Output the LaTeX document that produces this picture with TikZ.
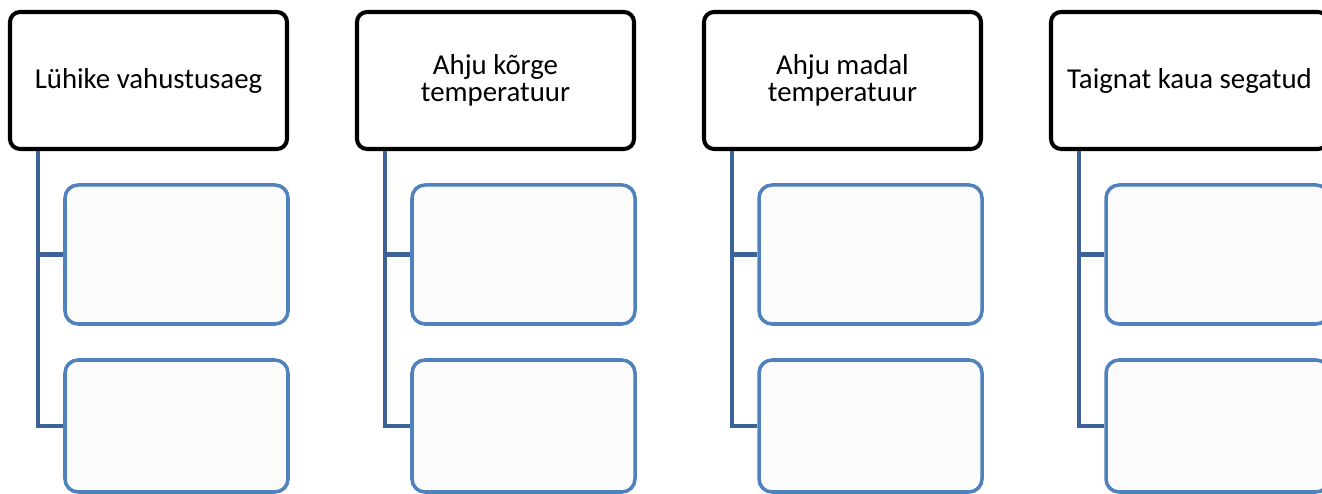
\documentclass[tikz,border=0pt]{standalone}
\usepackage{fontspec}
\setmainfont{Carlito}
\usetikzlibrary{calc}
\definecolor{box-blue}{HTML}{4F81BD}
\definecolor{box-fill}{HTML}{FBFBFB}
\definecolor{link-blue}{HTML}{3D6297}

\begin{document}
\begin{tikzpicture}[
    head/.style={draw=black, line width=2.3pt, fill=white, rounded corners=0.2cm,
      minimum width=5.54cm, minimum height=2.74cm, inner sep=0pt, align=center,
      font=\fontsize{16.4}{15.4}\selectfont},
    leaf/.style={draw=box-blue, line width=2pt, fill=box-fill, rounded corners=0.26cm,
      minimum width=4.46cm, minimum height=2.78cm, inner sep=0pt},
    low/.style={leaf, minimum height=2.64cm},
    link/.style={draw=link-blue, line width=2.3pt}]
  \useasboundingbox (0,0) rectangle (26.44,9.88);
  \clip (0,0) rectangle (26.44,9.88);
  % first column
  \node[head] (h1) at (2.97,8.27) {Lühike vahustusaeg};
  \node[leaf] (l1a) at (3.53,4.79) {};
  \node[low] (l1b) at (3.53,1.36) {};
  \coordinate (t1) at ($(h1.south west)+(0.6,0)$);
  \draw[link] (t1) |- (l1a.west) (t1) |- (l1b.west);
  % second column
  \node[head] (h2) at (9.91,8.27) {Ahju kõrge\\temperatuur};
  \node[leaf] (l2a) at (10.47,4.79) {};
  \node[low] (l2b) at (10.47,1.36) {};
  \coordinate (t2) at ($(h2.south west)+(0.6,0)$);
  \draw[link] (t2) |- (l2a.west) (t2) |- (l2b.west);
  % third column
  \node[head] (h3) at (16.85,8.27) {Ahju madal\\temperatuur};
  \node[leaf] (l3a) at (17.41,4.79) {};
  \node[low] (l3b) at (17.41,1.36) {};
  \coordinate (t3) at ($(h3.south west)+(0.6,0)$);
  \draw[link] (t3) |- (l3a.west) (t3) |- (l3b.west);
  % fourth column, runs off the right edge
  \node[head] (h4) at (23.79,8.27) {Taignat kaua segatud};
  \node[leaf] (l4a) at (24.35,4.79) {};
  \node[low] (l4b) at (24.35,1.36) {};
  \coordinate (t4) at ($(h4.south west)+(0.6,0)$);
  \draw[link] (t4) |- (l4a.west) (t4) |- (l4b.west);
\end{tikzpicture}
\end{document}
